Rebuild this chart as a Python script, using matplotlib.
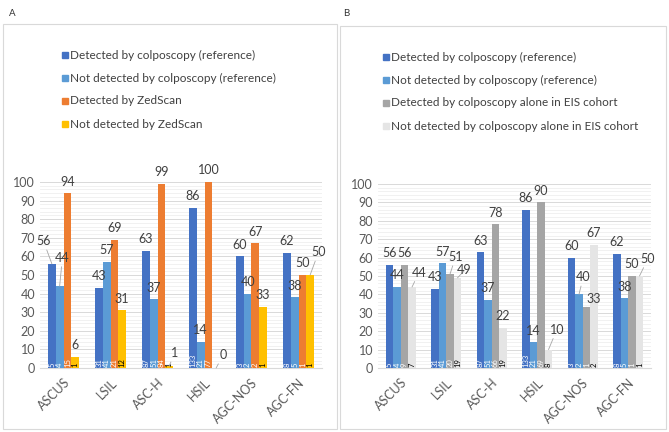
import numpy as np
import matplotlib
matplotlib.use("Agg")
import matplotlib.pyplot as plt
from matplotlib.patches import Rectangle

plt.rcParams['font.family'] = ['Lato', 'DejaVu Sans']

categories = ['ASCUS', 'LSIL', 'ASC-H', 'HSIL', 'AGC-NOS', 'AGC-FN']

# panel A
labels_a = ['Detected by colposcopy (reference)',
            'Not detected by colposcopy (reference)',
            'Detected by ZedScan',
            'Not detected by ZedScan']
pct_a = [[56, 43, 63, 86, 60, 62],
         [44, 57, 37, 14, 40, 38],
         [94, 69, 99, 100, 67, 50],
         [6, 31, 1, 0, 33, 50]]
n_a = [[5, 31, 87, 133, 3, 8],
       [4, 41, 51, 21, 2, 5],
       [15, 21, 84, 77, 2, 1],
       [1, 12, 1, None, 1, 1]]

# panel B
labels_b = ['Detected by colposcopy (reference)',
            'Not detected by colposcopy (reference)',
            'Detected by colposcopy alone in EIS cohort',
            'Not detected by colposcopy alone in EIS cohort']
pct_b = [[56, 43, 63, 86, 60, 62],
         [44, 57, 37, 14, 40, 38],
         [56, 51, 78, 90, 33, 50],
         [44, 49, 22, 10, 67, 50]]
n_b = [[5, 31, 87, 133, 3, 8],
       [4, 41, 51, 21, 2, 5],
       [9, 20, 66, 69, 1, 1],
       [7, 19, 19, 8, 2, 1]]

colors_a = ['#4472C4', '#5B9BD5', '#ED7D31', '#FFC000']
colors_b = ['#4472C4', '#5B9BD5', '#A5A5A5', '#E5E5E5']
count_col_a = ['white', 'white', 'white', 'black']
count_col_b = ['white', 'white', 'white', 'black']

# label nudges (points) for labels Excel moved, with leader lines
moves_a = {(0, 0): (-6, 12), (1, 0): (2, 16), (3, 2): (4, 5), (3, 3): (5, 5),
           (3, 5): (6, 12)}
moves_b = {(3, 0): (5, 6), (2, 1): (4, 8), (3, 1): (5, 1), (3, 3): (6, 10),
           (1, 4): (3, 8), (2, 4): (5, 2), (3, 5): (6, 8)}

text_col = '#404040'
fig = plt.figure(figsize=(6.69, 4.32), dpi=100)

# panel frames and letters
fig.patches.append(Rectangle((3 / 669, 3 / 432), 334 / 669, 405 / 432,
                             transform=fig.transFigure, fill=False,
                             edgecolor='#D9D9D9', lw=0.8))
fig.patches.append(Rectangle((340 / 669, 3 / 432), 326 / 669, 403 / 432,
                             transform=fig.transFigure, fill=False,
                             edgecolor='#D9D9D9', lw=0.8))
fig.text(9 / 669, 1 - 13 / 432, 'A', fontsize=7, va='center', color='#333333')
fig.text(343 / 669, 1 - 13 / 432, 'B', fontsize=7, va='center', color='#333333')


def panel(rect, pct, counts, colors, ccols, labels, moves, leg_x, leg_y):
    ax = fig.add_axes(rect)
    x = np.arange(len(categories))
    w = 0.165
    for i in range(4):
        xs = x + (i - 1.5) * w
        ax.bar(xs, pct[i], width=w, color=colors[i], zorder=3)
        for j in range(len(categories)):
            v = pct[i][j]
            c = counts[i][j]
            if c is not None:
                ax.text(xs[j], 0.8, str(c), rotation=90, ha='center',
                        va='bottom', fontsize=5.5, color=ccols[i], zorder=4)
            dx, dy = moves.get((i, j), (0, 4))
            if (i, j) in moves:
                ax.annotate(str(v), xy=(xs[j], v), xytext=(dx, dy),
                            textcoords='offset points', ha='center',
                            va='bottom', fontsize=9, color=text_col,
                            arrowprops=dict(arrowstyle='-', color='#A6A6A6',
                                            lw=0.6, shrinkA=0, shrinkB=0),
                            annotation_clip=False, zorder=5)
            else:
                ax.annotate(str(v), xy=(xs[j], v), xytext=(dx, dy),
                            textcoords='offset points', ha='center',
                            va='bottom', fontsize=9, color=text_col,
                            annotation_clip=False, zorder=5)
    ax.set_ylim(0, 100)
    ax.set_xlim(-0.5, len(categories) - 0.5)
    ax.set_yticks(range(0, 101, 10))
    ax.set_yticks(range(0, 101, 2), minor=True)
    ax.grid(axis='y', which='major', color='#D9D9D9', lw=0.7, zorder=0)
    ax.grid(axis='y', which='minor', color='#EFEFEF', lw=0.6, zorder=0)
    ax.set_xticks(x)
    ax.set_xticklabels(categories, rotation=45, ha='right',
                       rotation_mode='anchor', fontsize=9, color='#595959')
    ax.tick_params(axis='y', labelsize=9, labelcolor='#595959', length=0,
                   which='both')
    ax.tick_params(axis='x', length=0, pad=6)
    for s in ['top', 'right', 'left']:
        ax.spines[s].set_visible(False)
    ax.spines['bottom'].set_color('#D9D9D9')
    ax.set_axisbelow(True)
    # legend entries
    for i in range(4):
        yy = 1 - (leg_y + i * 23) / 432
        fig.patches.append(Rectangle((leg_x / 669, yy - 3 / 432), 6 / 669,
                                     6 / 432, transform=fig.transFigure,
                                     color=colors[i]))
        fig.text((leg_x + 8) / 669, yy, labels[i], fontsize=8.5,
                 va='center', color=text_col)
    return ax


panel([40 / 669, 64 / 432, 282 / 669, 186 / 432], pct_a, n_a, colors_a,
      count_col_a, labels_a, moves_a, 62, 55)
panel([378 / 669, 64 / 432, 273 / 669, 184 / 432], pct_b, n_b, colors_b,
      count_col_b, labels_b, moves_b, 383, 57)

plt.savefig('out.png', dpi=100)
